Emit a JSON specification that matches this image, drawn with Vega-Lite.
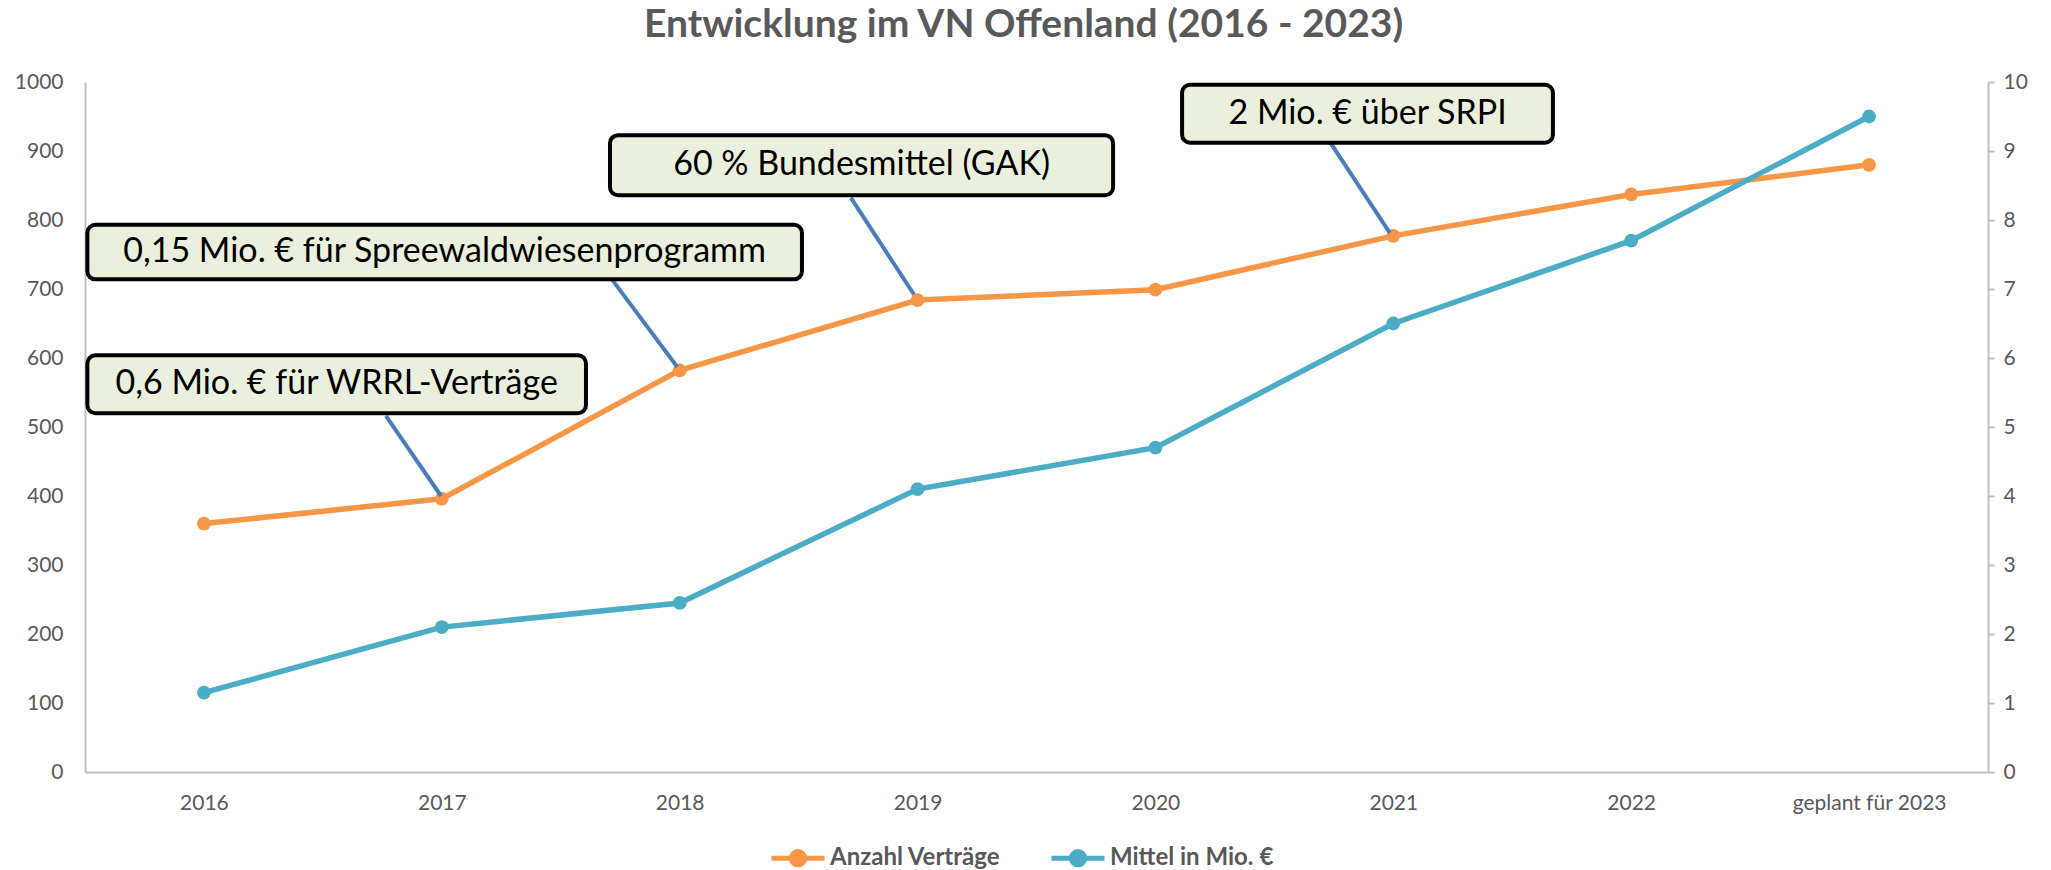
{
  "$schema": "https://vega.github.io/schema/vega-lite/v6.json",
  "width": 1903,
  "height": 690,
  "autosize": {"type": "none"},
  "padding": {"left": 85, "top": 82, "right": 63, "bottom": 98},
  "background": "white",
  "title": {
    "text": "Entwicklung im VN Offenland (2016 - 2023)",
    "font": "Lato",
    "fontSize": 39,
    "fontWeight": "bold",
    "color": "#595959",
    "anchor": "middle",
    "frame": "group",
    "dx": -13,
    "offset": 26
  },
  "config": {
    "view": {"stroke": null},
    "axis": {
      "labelFont": "Lato",
      "labelFontSize": 21,
      "labelColor": "#595959",
      "domainColor": "#BFBFBF",
      "domainWidth": 2,
      "grid": false,
      "title": null
    }
  },
  "datasets": {
    "reihen": [
      {"Jahr": "2016", "Anzahl": 360, "Mittel": 1.15},
      {"Jahr": "2017", "Anzahl": 396, "Mittel": 2.1},
      {"Jahr": "2018", "Anzahl": 582, "Mittel": 2.45},
      {"Jahr": "2019", "Anzahl": 684, "Mittel": 4.1},
      {"Jahr": "2020", "Anzahl": 699, "Mittel": 4.7},
      {"Jahr": "2021", "Anzahl": 777, "Mittel": 6.5},
      {"Jahr": "2022", "Anzahl": 837, "Mittel": 7.7},
      {"Jahr": "geplant für 2023", "Anzahl": 880, "Mittel": 9.5}
    ],
    "hinweise": [
      {"Text": "0,6 Mio. € für WRRL-Verträge", "links": -0.49, "rechts": 1.606, "oben": 604, "unten": 520, "mitte": 0.558, "hoehe": 562, "von_x": 0.765, "von_y": 516, "zu_x": 0.997, "zu_y": 400},
      {"Text": "0,15 Mio. € für Spreewaldwiesenprogramm", "links": -0.49, "rechts": 2.514, "oben": 793, "unten": 714, "mitte": 1.012, "hoehe": 753, "von_x": 1.715, "von_y": 714, "zu_x": 1.99, "zu_y": 587},
      {"Text": "60 % Bundesmittel (GAK)", "links": 1.707, "rechts": 3.822, "oben": 923, "unten": 836, "mitte": 2.765, "hoehe": 879, "von_x": 2.72, "von_y": 832, "zu_x": 2.985, "zu_y": 692},
      {"Text": "2 Mio. € über SRPI", "links": 4.112, "rechts": 5.671, "oben": 996, "unten": 912, "mitte": 4.892, "hoehe": 953, "von_x": 4.734, "von_y": 913, "zu_x": 4.986, "zu_y": 781}
    ]
  },
  "layer": [
    {
      "data": {"name": "reihen"},
      "mark": {"type": "line", "strokeWidth": 5.5, "point": {"filled": true, "size": 190}},
      "encoding": {
        "x": {
          "field": "Jahr", "type": "nominal", "sort": null,
          "scale": {"type": "point", "padding": 0.5},
          "axis": {"orient": "bottom", "labelAngle": 0, "ticks": false, "labelPadding": 20}
        },
        "y": {
          "field": "Anzahl", "type": "quantitative",
          "scale": {"domain": [0, 1000], "nice": false},
          "axis": {"orient": "left", "values": [0,100,200,300,400,500,600,700,800,900,1000], "format": "d", "ticks": false, "labelPadding": 22}
        },
        "color": {
          "datum": "Anzahl Verträge",
          "scale": {"domain": ["Anzahl Verträge", "Mittel in Mio. €"], "range": ["#F79646", "#4BACC6"]},
          "legend": {
            "orient": "none",
            "legendX": 684,
            "legendY": 747,
            "direction": "horizontal",
            "title": null,
            "labelFont": "Lato",
            "labelFontSize": 24,
            "labelFontWeight": "bold",
            "labelColor": "#595959",
            "labelLimit": 400,
            "labelOffset": 3,
            "columnPadding": 40,
            "symbolType": "M-1,0H1M-0.25,0A0.25,0.25,0,1,1,0.25,0A0.25,0.25,0,1,1,-0.25,0Z",
            "symbolSize": 2809,
            "symbolStrokeWidth": 5,
            "encode": {
              "symbols": {
                "update": {
                  "fill": {"scale": "color", "field": "value"},
                  "stroke": {"scale": "color", "field": "value"},
                  "strokeWidth": {"value": 5}
                }
              }
            }
          }
        }
      }
    },
    {
      "data": {"name": "reihen"},
      "mark": {"type": "line", "strokeWidth": 5.5, "point": {"filled": true, "size": 190}},
      "encoding": {
        "x": {
          "field": "Jahr", "type": "nominal", "sort": null,
          "scale": {"type": "point", "padding": 0.5},
          "axis": null
        },
        "y": {
          "field": "Mittel", "type": "quantitative",
          "scale": {"domain": [0, 10], "nice": false},
          "axis": {"orient": "right", "values": [0,1,2,3,4,5,6,7,8,9,10], "ticks": true, "tickSize": 6, "tickColor": "#BFBFBF", "tickWidth": 2, "labelPadding": 9}
        },
        "color": {"datum": "Mittel in Mio. €"}
      }
    },
    {
      "data": {"name": "hinweise"},
      "mark": {"type": "rule", "stroke": "#4A7EBB", "strokeWidth": 4},
      "encoding": {
        "x": {"field": "von_x", "type": "quantitative", "scale": {"domain": [-0.5, 7.5], "nice": false, "zero": false}, "axis": null},
        "x2": {"field": "zu_x"},
        "y": {"field": "von_y", "type": "quantitative", "scale": {"domain": [0, 1000], "nice": false}, "axis": null},
        "y2": {"field": "zu_y"}
      }
    },
    {
      "data": {"name": "hinweise"},
      "mark": {"type": "rect", "fill": "#EBF0DE", "stroke": "#000000", "strokeWidth": 4, "cornerRadius": 8},
      "encoding": {
        "x": {"field": "links", "type": "quantitative", "scale": {"domain": [-0.5, 7.5], "nice": false, "zero": false}, "axis": null},
        "x2": {"field": "rechts"},
        "y": {"field": "oben", "type": "quantitative", "scale": {"domain": [0, 1000], "nice": false}, "axis": null},
        "y2": {"field": "unten"}
      }
    },
    {
      "data": {"name": "hinweise"},
      "mark": {"type": "text", "font": "Lato", "fontSize": 34, "color": "#000000", "align": "center", "baseline": "middle"},
      "encoding": {
        "x": {"field": "mitte", "type": "quantitative", "scale": {"domain": [-0.5, 7.5], "nice": false, "zero": false}, "axis": null},
        "y": {"field": "hoehe", "type": "quantitative", "scale": {"domain": [0, 1000], "nice": false}, "axis": null},
        "text": {"field": "Text"}
      }
    }
  ],
  "resolve": {"scale": {"x": "independent", "y": "independent"}}
}
